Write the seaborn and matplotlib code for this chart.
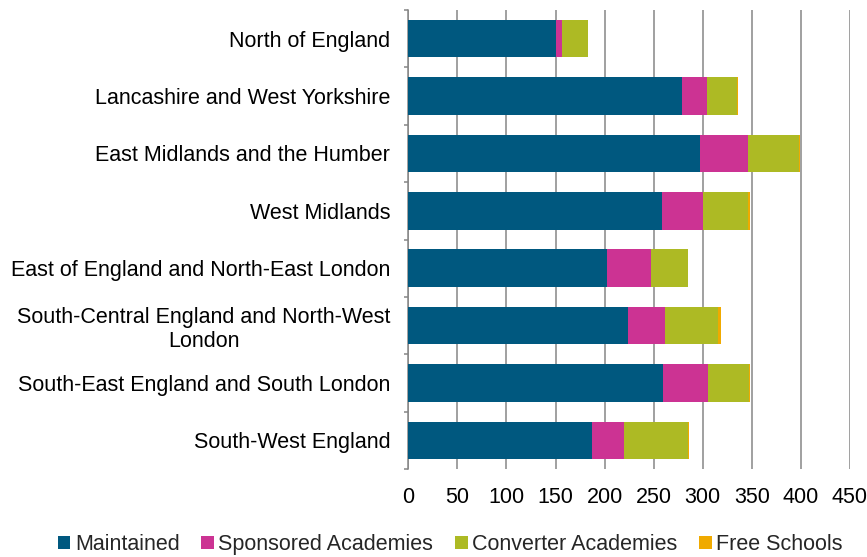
import numpy as np
import pandas as pd
import seaborn as sns
import matplotlib.pyplot as plt
from matplotlib.patches import Patch

regions = [
    "North of England",
    "Lancashire and West Yorkshire",
    "East Midlands and the Humber",
    "West Midlands",
    "East of England and North-East London",
    "South-Central England and North-West\nLondon",
    "South-East England and South London",
    "South-West England",
]
maintained = [150, 279, 297, 258, 202, 224, 259, 187]
sponsored = [7, 25, 49, 42, 45, 38, 46, 33]
converter = [26, 31, 52, 46, 38, 54, 42, 65]
free_schools = [0, 1, 1, 2, 0, 3, 1, 1]

series_names = ["Maintained", "Sponsored Academies", "Converter Academies", "Free Schools"]
colors = ["#00587F", "#CC3393", "#ADBA24", "#F0AA00"]

df = pd.DataFrame({
    "region": regions,
    "Maintained": maintained,
    "Sponsored Academies": sponsored,
    "Converter Academies": converter,
    "Free Schools": free_schools,
})

sns.set_theme(style="white")
plt.rcParams["font.family"] = ["Liberation Sans", "DejaVu Sans"]

fig = plt.figure(figsize=(8.67, 5.57), dpi=100)
ax = fig.add_axes([408.3 / 867, 1 - 469 / 557, (850 - 408.3) / 867, (469 - 10) / 557])

# stacked bars: draw cumulative totals, largest first
cum = df[series_names].cumsum(axis=1)
for name, col in reversed(list(zip(series_names, colors))):
    sns.barplot(x=cum[name], y=df["region"], orient="h", color=col,
                width=0.655, linewidth=0, saturation=1, ax=ax, zorder=3)

ax.set_xlim(0, 450)
ax.set_ylim(len(regions) - 0.5, -0.5)
ax.set_xticks(np.arange(0, 451, 50))
ax.set_xlabel("")
ax.set_ylabel("")
ax.grid(axis="x", color="#868686", linewidth=1.1, zorder=0)
ax.grid(axis="y", visible=False)

for s in ["top", "right", "bottom"]:
    ax.spines[s].set_visible(False)
ax.spines["left"].set_color("#868686")
ax.spines["left"].set_linewidth(1.1)

ax.tick_params(axis="x", length=0, pad=13, labelsize=15.5, labelcolor="black")
ax.tick_params(axis="y", which="major", length=0, pad=13, labelsize=15.5, labelcolor="black")
ax.set_yticks(np.arange(-0.5, len(regions), 1), minor=True)
ax.tick_params(axis="y", which="minor", length=3, width=1.1, color="#868686", left=True)
for lab in ax.get_yticklabels():
    lab.set_multialignment("center")

handles = [Patch(facecolor=c, edgecolor="none") for c in colors]
fig.legend(handles, series_names, loc="lower center", bbox_to_anchor=(450 / 867, -0.012),
           ncol=4, frameon=False, fontsize=15.5, handlelength=0.6, handleheight=0.6,
           handletextpad=0.2, columnspacing=1.0, borderaxespad=0.0)

fig.savefig("out.png", dpi=100)
